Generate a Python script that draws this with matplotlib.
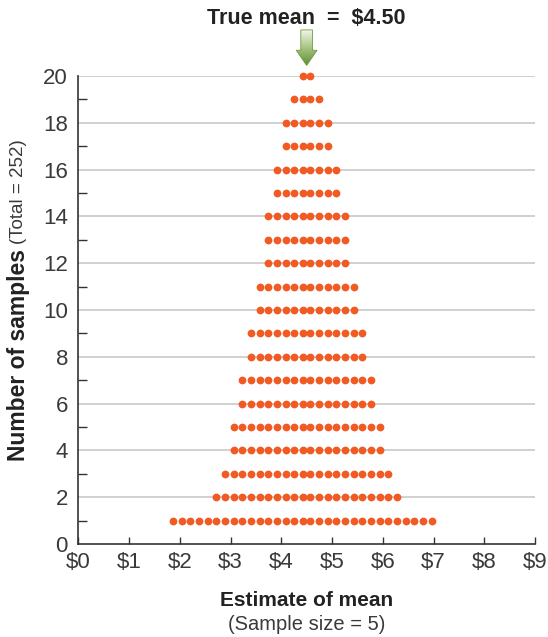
import numpy as np
import matplotlib
matplotlib.use("Agg")
import matplotlib.pyplot as plt
from matplotlib.patches import Polygon
from matplotlib.colors import LinearSegmentedColormap

plt.rcParams['font.family'] = ['Liberation Sans', 'DejaVu Sans']

# ---- data ----
rows = list(range(1, 21))                       # number-of-samples level
left_counts = [16, 11, 10, 9, 9, 8, 8, 7, 7, 6, 6, 5, 5, 5, 4, 4, 3, 3, 2, 1]
right_counts = [15, 11, 10, 9, 9, 8, 8, 7, 7, 6, 6, 5, 5, 5, 4, 4, 3, 3, 2, 1]
true_mean = 4.50
x_ticks = list(range(0, 10))
x_labels = [f"${v}" for v in x_ticks]
y_ticks = list(range(0, 21, 2))

# ---- style ----
PITCH = 0.171
HALF_GAP = 0.072
DOT = '#F15A22'
TXT = '#3a3a3a'

fig = plt.figure(figsize=(5.48, 6.37), dpi=100)
W, H = 548, 637
ax = fig.add_axes([78.3 / W, 1 - 544 / H, (535 - 78.3) / W, (544 - 76) / H])
ax.set_xlim(0, 9)
ax.set_ylim(0, 20)

for y, nl, nr in zip(rows, left_counts, right_counts):
    xs = [true_mean - HALF_GAP - i * PITCH for i in range(nl)] + \
         [true_mean + HALF_GAP + i * PITCH for i in range(nr)]
    ax.plot(xs, [y] * len(xs), 'o', color=DOT, markersize=5.6,
            markeredgewidth=0, clip_on=False, zorder=3)

for y in y_ticks[1:]:
    ax.axhline(y, color='#c8c8c8', lw=1.2, zorder=1)

for s in ['top', 'right']:
    ax.spines[s].set_visible(False)
for s in ['left', 'bottom']:
    ax.spines[s].set_color('#333333')
    ax.spines[s].set_linewidth(1.2)

ax.set_xticks(x_ticks)
ax.set_xticklabels(x_labels)
ax.set_yticks(y_ticks)
ax.set_yticks(range(1, 20, 2), minor=True)
ax.tick_params(axis='x', direction='in', length=5, width=1, color='#333333',
               labelsize=16, labelcolor=TXT, pad=6)
ax.tick_params(axis='y', which='major', length=0, labelsize=16,
               labelcolor=TXT, pad=7.5)
ax.tick_params(axis='y', which='minor', direction='in', length=6.5,
               width=1, color='#333333')

# arrow with gradient, drawn in a small overlay axes placed over x = true_mean
sw, hw = 0.115, 0.205
y_top, y_head, y_tip = 21.97, 21.1, 20.45
x0, y0 = true_mean - 0.3, 20.3
x1, y1 = true_mean + 0.3, 22.1
to_fig = ax.transData + fig.transFigure.inverted()
(fx0, fy0), (fx1, fy1) = to_fig.transform([(x0, y0), (x1, y1)])
aax = fig.add_axes([fx0, fy0, fx1 - fx0, fy1 - fy0])
aax.set_xlim(x0, x1)
aax.set_ylim(y0, y1)
aax.axis('off')
pts = [(true_mean - sw, y_top), (true_mean + sw, y_top), (true_mean + sw, y_head),
       (true_mean + hw, y_head), (true_mean, y_tip), (true_mean - hw, y_head),
       (true_mean - sw, y_head)]
poly = Polygon(pts, closed=True, facecolor='none', edgecolor='#6e9a45',
               lw=0.6, zorder=5)
aax.add_patch(poly)
grad = np.linspace(0, 1, 100).reshape(-1, 1)
cmap = LinearSegmentedColormap.from_list('g', ['#f4f8ee', '#a9c784', '#5f9134'])
im = aax.imshow(grad, cmap=cmap, aspect='auto', origin='upper',
                extent=(true_mean - hw, true_mean + hw, y_tip, y_top), zorder=4)
im.set_clip_path(poly)
aax.set_xlim(x0, x1)
aax.set_ylim(y0, y1)

fig.text(306 / W, 1 - 18 / H, 'True mean  =  $4.50', ha='center', va='center',
         fontsize=15.5, fontweight='bold', color='#222222')

# y label (bold + regular)
fig.text(19 / W, 1 - 249 / H, 'Number of samples', rotation=90, ha='center',
         va='top', fontsize=16.5, fontweight='bold', color='#222222')
fig.text(19 / W, 1 - 244 / H, '(Total = 252)', rotation=90, ha='center',
         va='bottom', fontsize=13.5, color=TXT)

fig.text(307 / W, 1 - 600 / H, 'Estimate of mean', ha='center', va='center',
         fontsize=15, fontweight='bold', color='#222222')
fig.text(307 / W, 1 - 624 / H, '(Sample size = 5)', ha='center', va='center',
         fontsize=14.5, color=TXT)

fig.savefig('out.png', dpi=100)
